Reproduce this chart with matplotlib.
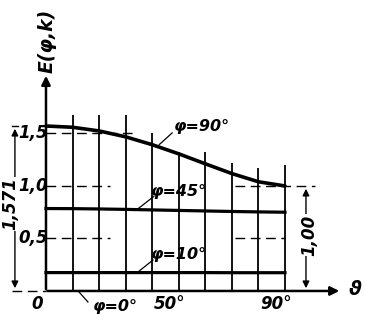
import matplotlib.pyplot as plt
import numpy as np

# modulus angle, degrees
theta = [0, 10, 20, 30, 40, 50, 60, 70, 80, 90]

# E(phi, k), k = sin(theta)
e_90 = [1.571, 1.559, 1.524, 1.468, 1.393, 1.306, 1.211, 1.118, 1.040, 1.000]
e_45 = [0.785, 0.784, 0.781, 0.777, 0.772, 0.767, 0.762, 0.757, 0.753, 0.750]
e_10 = [0.175, 0.175, 0.175, 0.175, 0.175, 0.175, 0.175, 0.174, 0.174, 0.174]

# grid: vertical lines every 10 degrees and how high each one runs
grid_x = [10, 20, 30, 40, 50, 60, 70, 80, 90]
grid_top = [1.68, 1.68, 1.68, 1.50, 1.32, 1.32, 1.22, 1.17, 1.20]

ytick_vals = [0.5, 1.0, 1.5]
ytick_text = ['0,5', '1,0', '1,5']
xtick_vals = [0, 50, 90]
xtick_text = ['0', '50°', '90°']

FONT = ['Liberation Sans Narrow', 'DejaVu Sans']
fs = 12

fig = plt.figure(figsize=(3.65, 3.23), dpi=100)
ax = fig.add_axes([0, 0, 1, 1])
ax.set_xlim(-17.32, 120.13)
ax.set_ylim(-0.305, 2.771)
ax.axis('off')

txt = dict(family=FONT, style='italic', fontweight='bold', fontsize=fs,
           ha='center', va='center')

# grid lines
for gx, gt in zip(grid_x, grid_top):
    ax.plot([gx, gx], [0, gt], color='black', lw=1.3, solid_capstyle='butt')

# dashed reference levels
dash = dict(color='black', lw=1.0, dashes=(7, 4))
ax.plot([0, 34.3], [1.5, 1.5], **dash)
ax.plot([0, 24.1], [1.0, 1.0], **dash)
ax.plot([0, 24.1], [0.5, 0.5], **dash)
ax.plot([71.2, 101.3], [1.0, 1.0], **dash)
ax.plot([71.2, 90], [0.5, 0.5], **dash)
ax.plot([-12.8, 0], [0, 0], **dash)
ax.plot([-12.8, -10.5], [1.571, 1.571], color='black', lw=1.0)

# curves
ax.plot(theta, e_90, color='black', lw=2.6, solid_capstyle='round')
ax.plot(theta, e_45, color='black', lw=2.3)
ax.plot(theta, e_10, color='black', lw=2.3)

# axes with arrows
arr = dict(arrowstyle='-|>', color='black', lw=1.8, mutation_scale=13)
ax.annotate('', xy=(0, 2.076), xytext=(0, -0.01), arrowprops=arr)
ax.annotate('', xy=(111.5, 0), xytext=(-0.5, 0), arrowprops=arr)
ax.text(0.4, 2.38, 'E(φ,k)', rotation=90, **dict(txt, fontsize=13.5))
ax.text(116.3, 0.01, 'ϑ', **dict(txt, family='DejaVu Sans', fontsize=14))

# tick labels
for v, s in zip(ytick_vals, ytick_text):
    ax.text(-4.9, v, s, **txt)
for v, s in zip(xtick_vals, xtick_text):
    ax.text(v - 3.3, -0.12, s, **txt)

# dimension arrows
dim = dict(arrowstyle='<|-|>', color='black', lw=1.0, mutation_scale=10)
ax.annotate('', xy=(-11.7, 1.571), xytext=(-11.7, 0), arrowprops=dim)
ax.text(-13.5, 0.83, '1,571', rotation=90,
        bbox=dict(facecolor='white', edgecolor='none', pad=0.3), **txt)
ax.annotate('', xy=(97.9, 1.0), xytext=(97.9, 0), arrowprops=dim)
ax.text(99.2, 0.53, '1,00', rotation=90,
        bbox=dict(facecolor='white', edgecolor='none', pad=0.3), **txt)

# curve labels with leader lines
labels = [('φ=90°', (42.7, 1.395), (47.5, 1.505), (58.6, 1.565)),
          ('φ=45°', (35.0, 0.79), (40.6, 0.90), (50.2, 0.943)),
          ('φ=10°', (34.6, 0.18), (40.3, 0.295), (50.2, 0.343)),
          ('φ=0°', (12.1, 0.0), (15.8, -0.105), (26.0, -0.150))]
for s, p0, p1, pt in labels:
    ax.plot([p0[0], p1[0]], [p0[1], p1[1]], color='black', lw=0.9)
    ax.text(pt[0], pt[1], s, **dict(txt, fontsize=11.5))

fig.savefig('out.png', dpi=100)
